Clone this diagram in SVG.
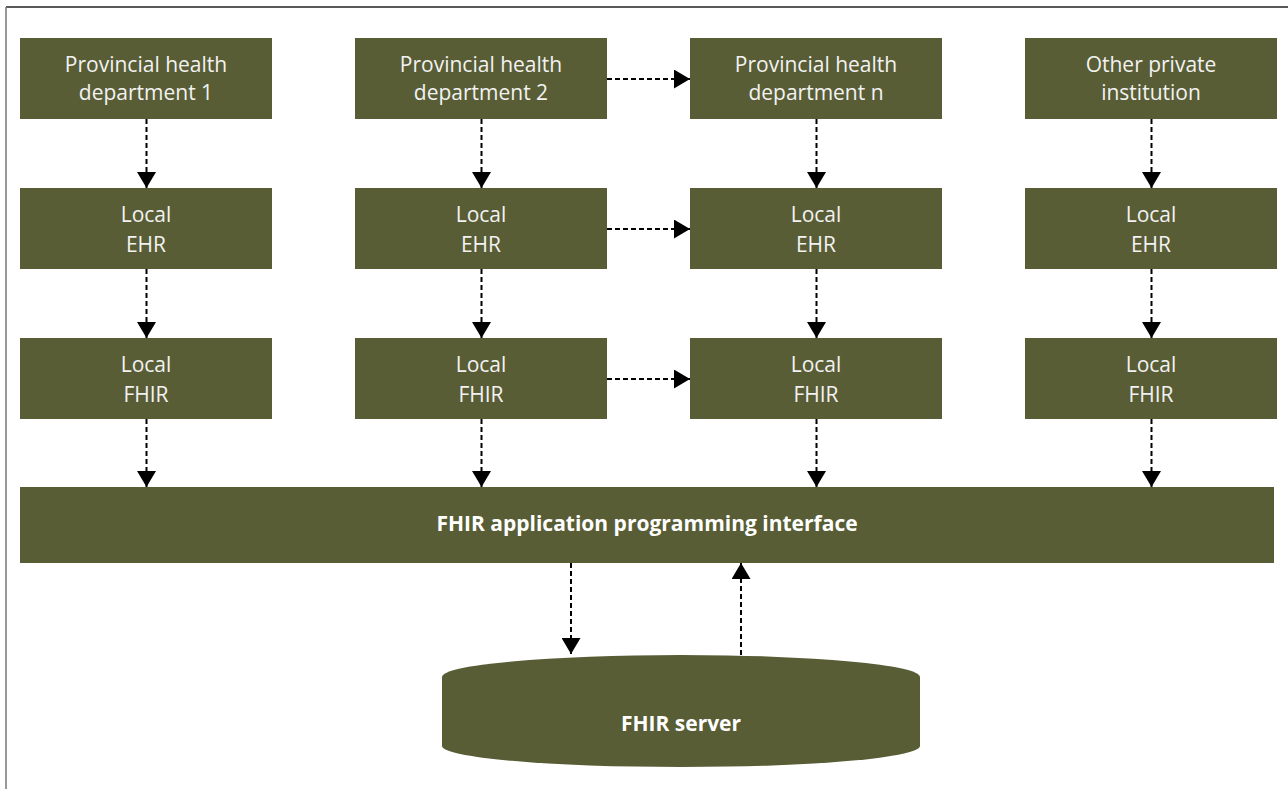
<svg xmlns="http://www.w3.org/2000/svg" width="1288" height="789" viewBox="0 0 1288 789">
<defs>
<style>
.box{fill:#585d35}
.t{font-family:"Open Sans","Noto Sans",sans-serif;font-size:21px;fill:#f2f2f2;text-anchor:middle}
.tb{font-family:"Open Sans","Noto Sans",sans-serif;font-size:21px;font-weight:bold;fill:#ffffff;text-anchor:middle}
.c{stroke:#000;stroke-width:2;stroke-dasharray:5 3;fill:none;marker-end:url(#ah)}
</style>
<marker id="ah" viewBox="0 0 16 19" refX="16" refY="9.5" markerWidth="16" markerHeight="19" markerUnits="userSpaceOnUse" orient="auto">
<path d="M0,0 L16,9.5 L0,19 Z" fill="#000"/>
</marker>
</defs>
<rect width="1288" height="789" fill="#fff"/>
<line x1="6" y1="7" x2="1288" y2="7" stroke="#222" stroke-width="1.5"/>
<line x1="6" y1="7" x2="6" y2="789" stroke="#777" stroke-width="1.5"/>

<g id="pd1"><rect class="box" x="20" y="38" width="252" height="81"/><text class="t" x="146" y="72">Provincial health</text><text class="t" x="146" y="99.5">department 1</text></g>
<g id="pd2"><rect class="box" x="355" y="38" width="252" height="81"/><text class="t" x="481" y="72">Provincial health</text><text class="t" x="481" y="99.5">department 2</text></g>
<g id="pdn"><rect class="box" x="690" y="38" width="252" height="81"/><text class="t" x="816" y="72">Provincial health</text><text class="t" x="816" y="99.5">department n</text></g>
<g id="opi"><rect class="box" x="1025" y="38" width="252" height="81"/><text class="t" x="1151" y="72">Other private</text><text class="t" x="1151" y="99.5">institution</text></g>

<g id="ehr1"><rect class="box" x="20" y="188" width="252" height="81"/><text class="t" x="146" y="222">Local</text><text class="t" x="146" y="252">EHR</text></g>
<g id="ehr2"><rect class="box" x="355" y="188" width="252" height="81"/><text class="t" x="481" y="222">Local</text><text class="t" x="481" y="252">EHR</text></g>
<g id="ehrn"><rect class="box" x="690" y="188" width="252" height="81"/><text class="t" x="816" y="222">Local</text><text class="t" x="816" y="252">EHR</text></g>
<g id="ehr4"><rect class="box" x="1025" y="188" width="252" height="81"/><text class="t" x="1151" y="222">Local</text><text class="t" x="1151" y="252">EHR</text></g>

<g id="fhir1"><rect class="box" x="20" y="338" width="252" height="81"/><text class="t" x="146" y="372">Local</text><text class="t" x="146" y="402">FHIR</text></g>
<g id="fhir2"><rect class="box" x="355" y="338" width="252" height="81"/><text class="t" x="481" y="372">Local</text><text class="t" x="481" y="402">FHIR</text></g>
<g id="fhirn"><rect class="box" x="690" y="338" width="252" height="81"/><text class="t" x="816" y="372">Local</text><text class="t" x="816" y="402">FHIR</text></g>
<g id="fhir4"><rect class="box" x="1025" y="338" width="252" height="81"/><text class="t" x="1151" y="372">Local</text><text class="t" x="1151" y="402">FHIR</text></g>

<g id="api"><rect class="box" x="20" y="487" width="1254" height="76"/><text class="tb" x="647" y="531">FHIR application programming interface</text></g>

<g id="server"><path class="box" d="M442,677 A239,22 0 0 1 920,677 L920,746 A239,21 0 0 1 442,746 Z"/><text class="tb" x="681" y="731">FHIR server</text></g>

<g id="connectors">
<line class="c" x1="146.5" y1="119" x2="146.5" y2="188"/>
<line class="c" x1="481.5" y1="119" x2="481.5" y2="188"/>
<line class="c" x1="816.5" y1="119" x2="816.5" y2="188"/>
<line class="c" x1="1151.5" y1="119" x2="1151.5" y2="188"/>
<line class="c" x1="146.5" y1="269" x2="146.5" y2="338"/>
<line class="c" x1="481.5" y1="269" x2="481.5" y2="338"/>
<line class="c" x1="816.5" y1="269" x2="816.5" y2="338"/>
<line class="c" x1="1151.5" y1="269" x2="1151.5" y2="338"/>
<line class="c" x1="146.5" y1="419" x2="146.5" y2="487"/>
<line class="c" x1="481.5" y1="419" x2="481.5" y2="487"/>
<line class="c" x1="816.5" y1="419" x2="816.5" y2="487"/>
<line class="c" x1="1151.5" y1="419" x2="1151.5" y2="487"/>
<line class="c" x1="607" y1="79" x2="690" y2="79"/>
<line class="c" x1="607" y1="229" x2="690" y2="229"/>
<line class="c" x1="607" y1="379" x2="690" y2="379"/>
<line class="c" x1="571" y1="563" x2="571" y2="654"/>
<line class="c" x1="741" y1="655" x2="741" y2="563"/>
</g>
</svg>
